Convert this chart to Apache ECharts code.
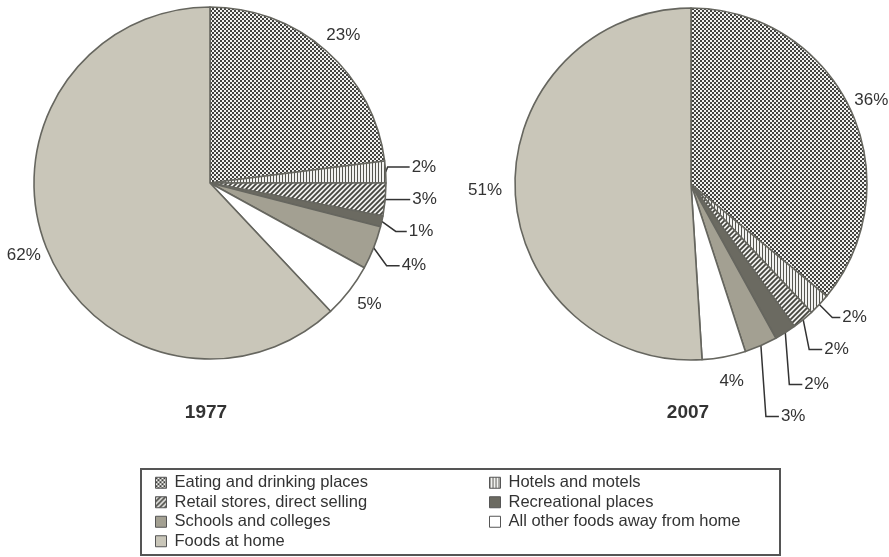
<!DOCTYPE html>
<html>
<head>
<meta charset="utf-8">
<script src="https://cdn.jsdelivr.net/npm/echarts@6/dist/echarts.min.js"></script>
<style>
  html, body { margin: 0; padding: 0; background: #fff; }
  #chart { width: 889px; height: 557px; }
</style>
</head>
<body>
<div id="chart"></div>
<script>
// categories, clockwise from 12 o'clock
const categories = [
  'Eating and drinking places',
  'Hotels and motels',
  'Retail stores, direct selling',
  'Recreational places',
  'Schools and colleges',
  'All other foods away from home',
  'Foods at home'
];
const values1977 = [23, 2, 3, 1, 4, 5, 62];
const values2007 = [36, 2, 2, 2, 3, 4, 51];
const years = ['1977', '2007'];

const FONT = '"Liberation Sans", Arial, sans-serif';

// distance of the label from the rim (labels without a leader line)
const labelGap = [
  [21, 0, 0, 0, 0, 22, 21],
  [20, 0, 0, 0, 0, 25, 27]
];
// leader lines: [drop from rim point, elbow run, tail]
const leaders = [
  [null, [-5, 2, 22], [0, 1, 24], [10, 14, 11], [18, 13, 13], null, null],
  [null, [13, 13, 8], [30, 6, 13], [52, 4, 13], [71, 5, 13], null, null]
];

function makePattern(draw, w, h) {
  const c = document.createElement('canvas');
  c.width = w; c.height = h;
  const ctx = c.getContext('2d');
  ctx.fillStyle = '#f2f2f0';
  ctx.fillRect(0, 0, w, h);
  draw(ctx);
  return { image: c, repeat: 'repeat' };
}

const checker = makePattern(ctx => {
  ctx.fillStyle = '#42423f';
  ctx.fillRect(0, 0, 2, 2);
  ctx.fillRect(2, 2, 2, 2);
}, 4, 4);

const vstripes = makePattern(ctx => {
  ctx.fillStyle = '#55554f';
  ctx.fillRect(0, 0, 1, 3);
}, 3, 3);

const diag = makePattern(ctx => {
  ctx.strokeStyle = '#45453f';
  ctx.lineWidth = 1.8;
  const n = 5;
  ctx.beginPath();
  ctx.moveTo(0, n); ctx.lineTo(n, 0);
  ctx.moveTo(-1, 1); ctx.lineTo(1, -1);
  ctx.moveTo(n - 1, n + 1); ctx.lineTo(n + 1, n - 1);
  ctx.stroke();
}, 5, 5);

const fills = [checker, vstripes, diag, '#6b6a61', '#a3a092', '#ffffff', '#c9c6b9'];

function buildData(values, s) {
  return categories.map((name, i) => ({
    name: name,
    value: values[i],
    itemStyle: { color: fills[i] },
    labelLine: {
      show: !!leaders[s][i],
      length: leaders[s][i] ? 4 : labelGap[s][i],
      length2: leaders[s][i] ? 4 : 0
    }
  }));
}

function layoutLabel(params) {
  const spec = leaders[params.seriesIndex][params.dataIndex];
  if (!spec) {
    // center the text on its anchor point
    const half = params.labelRect.width / 2;
    return { dx: params.align === 'left' ? -half : half };
  }
  const p0 = params.labelLinePoints[0];
  const p1 = [p0[0] + spec[1], p0[1] + spec[0]];
  const p2 = [p1[0] + spec[2], p1[1]];
  return {
    x: p2[0] + 2,
    y: p2[1],
    align: 'left',
    verticalAlign: 'middle',
    labelLinePoints: [p0, p1, p2]
  };
}

function pieSeries(values, s, center) {
  return {
    type: 'pie',
    radius: 176,
    center: center,
    startAngle: 90,
    clockwise: true,
    avoidLabelOverlap: false,
    animation: false,
    silent: true,
    itemStyle: { borderColor: '#66665f', borderWidth: 1.6 },
    label: {
      show: true,
      position: 'outside',
      formatter: '{c}%',
      fontFamily: FONT,
      fontSize: 17,
      color: '#333',
      distanceToLabelLine: 3
    },
    labelLine: {
      smooth: false,
      lineStyle: { color: '#333', width: 1.5 }
    },
    labelLayout: layoutLabel,
    data: buildData(values, s)
  };
}

const legendBase = {
  orient: 'vertical', top: 473, padding: 0,
  selectedMode: false, icon: 'rect', itemWidth: 11, itemHeight: 11, itemGap: 0,
  itemStyle: { borderColor: '#555', borderWidth: 1 },
  textStyle: { fontFamily: FONT, fontSize: 16.5, color: '#333', lineHeight: 19.5, padding: [0, 0, 0, 3] }
};

const chart = echarts.init(document.getElementById('chart'));
chart.setOption({
  backgroundColor: '#ffffff',
  title: [
    { text: years[0], left: 206, top: 403, textAlign: 'center', padding: 0,
      textStyle: { fontFamily: FONT, fontSize: 19, fontWeight: 'bold', color: '#333' } },
    { text: years[1], left: 688, top: 403, textAlign: 'center', padding: 0,
      textStyle: { fontFamily: FONT, fontSize: 19, fontWeight: 'bold', color: '#333' } }
  ],
  legend: [
    Object.assign({}, legendBase, {
      left: 155,
      data: [categories[0], categories[2], categories[4], categories[6]]
    }),
    Object.assign({}, legendBase, {
      left: 489,
      data: [categories[1], categories[3], categories[5]]
    })
  ],
  graphic: [
    {
      type: 'rect',
      shape: { x: 141, y: 469, width: 639, height: 86 },
      style: { fill: 'none', stroke: '#555', lineWidth: 2 },
      silent: true
    }
  ],
  series: [
    pieSeries(values1977, 0, [210, 183]),
    pieSeries(values2007, 1, [691, 184])
  ]
});
</script>
</body>
</html>
